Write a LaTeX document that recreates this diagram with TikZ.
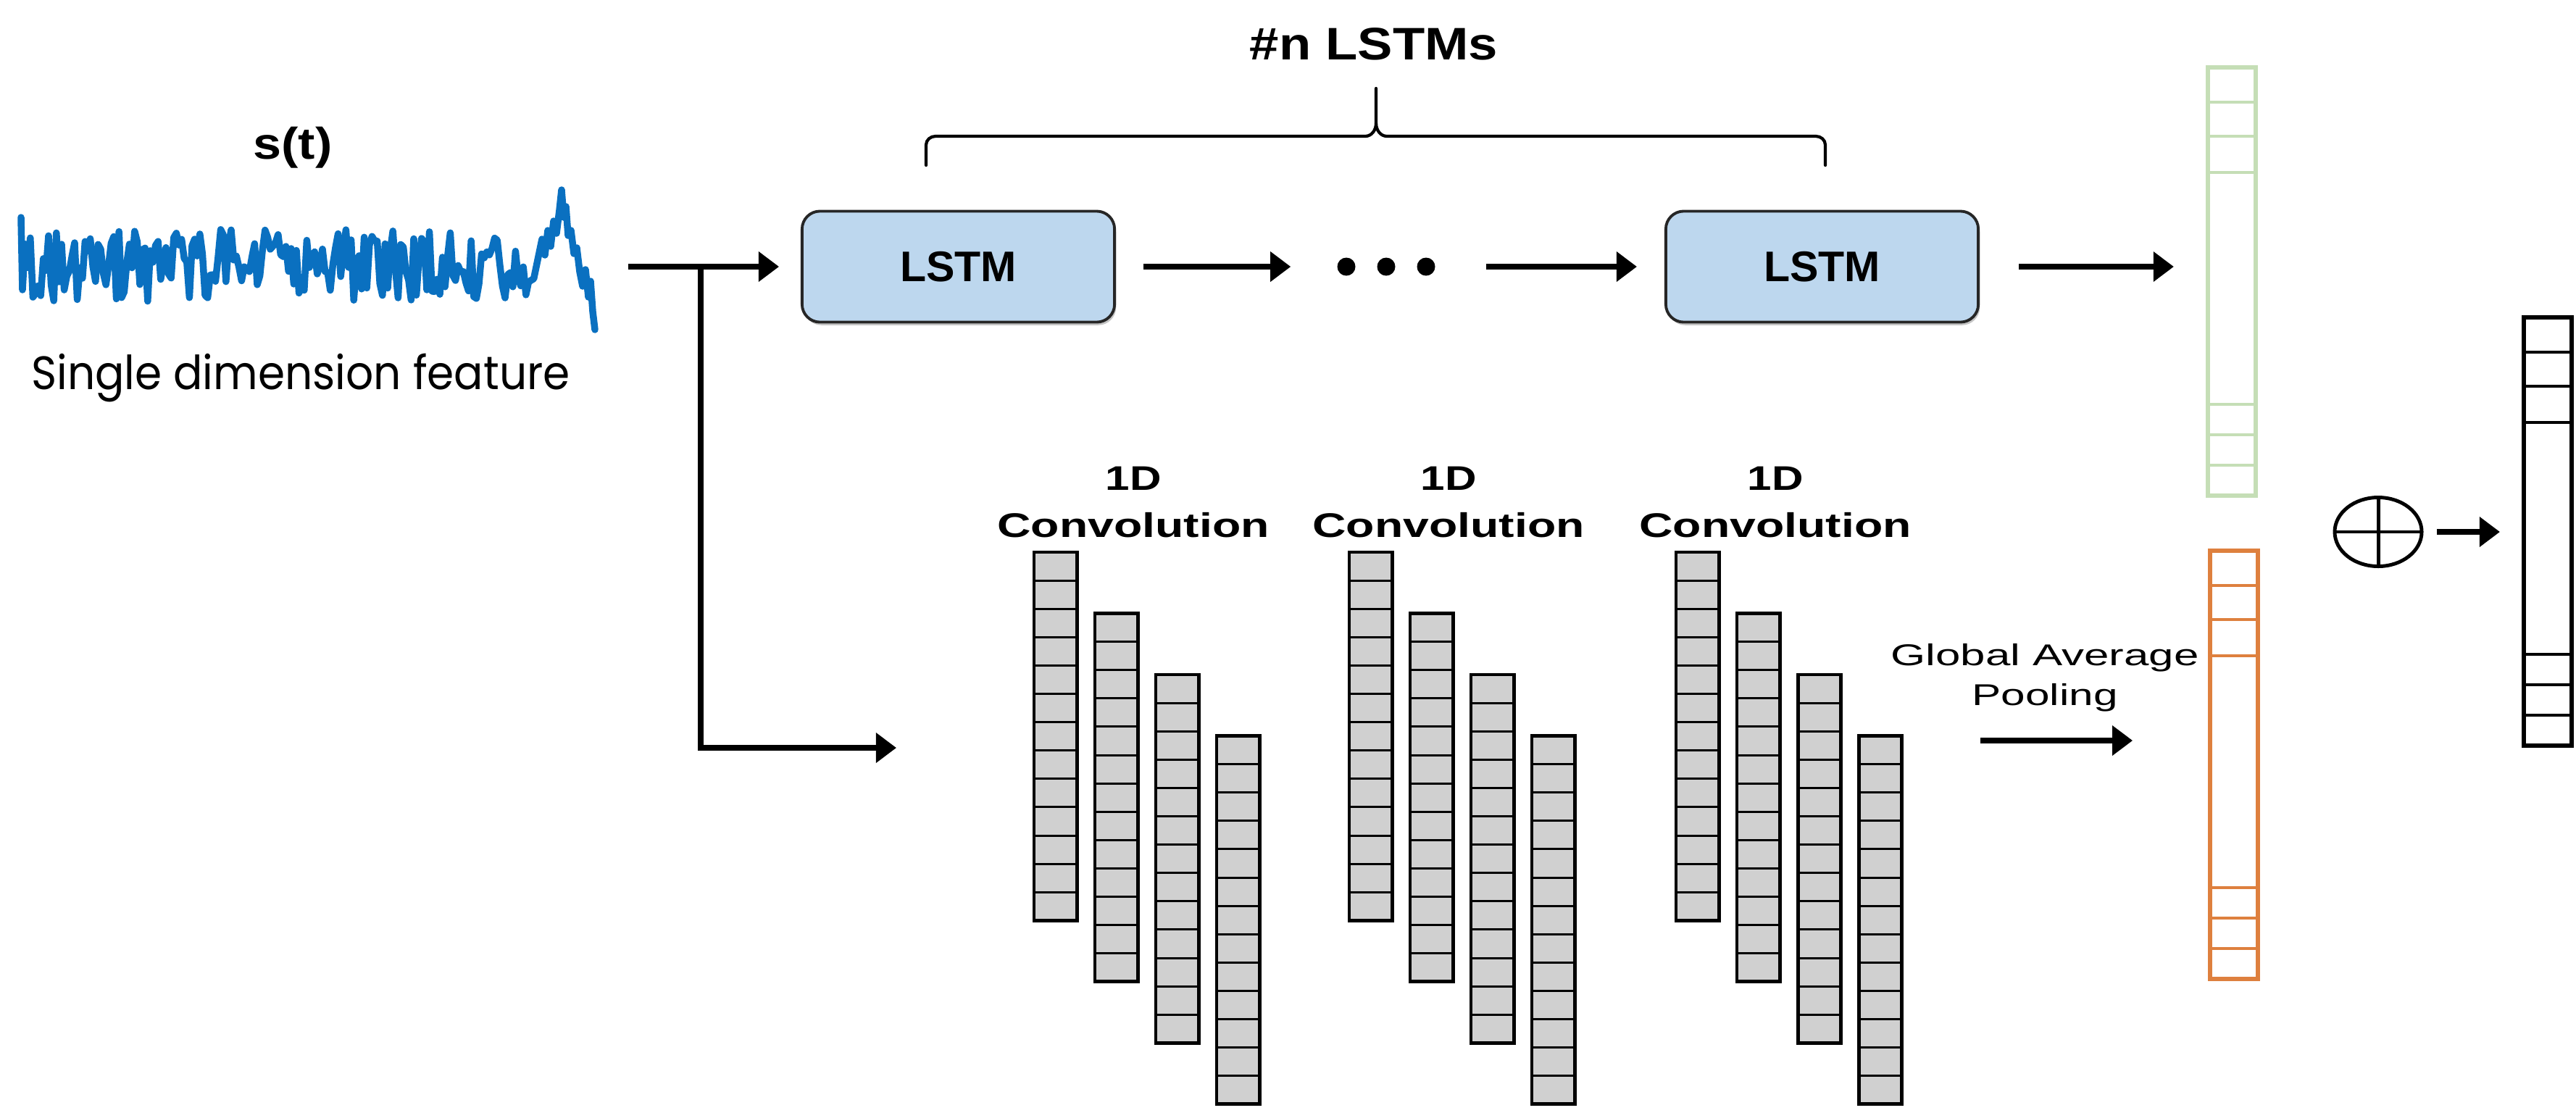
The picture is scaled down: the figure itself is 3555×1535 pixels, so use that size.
\documentclass[tikz,border=0pt]{standalone}
\usepackage{fontspec}
\setmainfont{Liberation Sans}
\newfontfamily\poppfont{Poppins}
\usepackage{graphicx}
\usetikzlibrary{arrows.meta,shadows,shapes.geometric}

\definecolor{sigblue}{RGB}{10,112,192}
\definecolor{lstmfill}{RGB}{189,215,238}
\definecolor{vgreen}{RGB}{197,222,182}
\definecolor{vorange}{RGB}{222,128,62}
\definecolor{convgray}{RGB}{208,208,208}

\tikzset{
  arr/.style={line width=2.2pt, -{Triangle[length=8pt,width=11.4pt]}},
  lstmbox/.style={draw=black!85, line width=1.1pt, fill=lstmfill, rounded corners=7pt,
    minimum width=4.31cm, minimum height=1.53cm, inner sep=0pt,
    font=\fontsize{16.8}{20}\selectfont\bfseries,
    drop shadow={shadow xshift=0.6pt,shadow yshift=-1.2pt,opacity=0.45}},
  convcol/.style={draw=black, line width=1.4pt, fill=convgray, minimum width=0.59cm,
    minimum height=5.08cm, inner sep=0pt, outer sep=0pt, anchor=north west,
    path picture={\foreach \j in {1,...,12}{\draw[black, line width=0.85pt]
      ([yshift=-\j*0.39077cm]path picture bounding box.north west) --
      ([yshift=-\j*0.39077cm]path picture bounding box.north east);}}},
  vec/.style={draw=#1, line width=1.7pt, minimum width=0.66cm, minimum height=5.91cm,
    inner sep=0pt, outer sep=0pt, anchor=north west,
    path picture={
      \foreach \d in {0.48,0.95,1.45}{\draw[line width=1.1pt,#1]
        ([yshift=-\d*1cm]path picture bounding box.north west) --
        ([yshift=-\d*1cm]path picture bounding box.north east);}
      \foreach \d in {0.42,0.84,1.26}{\draw[line width=1.1pt,#1]
        ([yshift=\d*1cm]path picture bounding box.south west) --
        ([yshift=\d*1cm]path picture bounding box.south east);}}},
  lbl/.style={inner sep=0pt, anchor=base},
}

\begin{document}
\begin{tikzpicture}[x=0.01cm,y=-0.01cm]
\useasboundingbox (0,0) rectangle (3555,1535);
\fill[white] (0,0) rectangle (3555,1535);

% input signal
\pgfmathsetseed{42}
\draw[sigblue, line width=2.7pt, line join=round, line cap=round]
  (29,300) -- (31,400) \foreach \i in {1,...,196}{ -- ({31+3.6*\i},{366+50*rand}) }
  -- (748,330) -- (752,352) -- (756,318) -- (760,340) -- (764,305) -- (768,322)
  -- (772,290) -- (775,262) -- (778,300) -- (781,285) -- (784,325) -- (788,318)
  -- (792,350) -- (796,342) -- (800,375) -- (804,395) -- (808,372) -- (812,410)
  -- (815,388) -- (818,430) -- (821,455);

\node[lbl, font=\fontsize{17.4}{20}\selectfont\bfseries] (st) at (404,219)
  {\resizebox{31pt}{\height}{s(t)}};
\node[lbl, font=\poppfont\fontsize{18.4}{22}\selectfont] (sdf) at (415,537)
  {\resizebox{211.4pt}{\height}{Single dimension feature}};

% LSTM chain
\node[lstmbox] (lstm1) at (1322.5,368) {LSTM};
\node[lstmbox] (lstm2) at (2514.5,368) {LSTM};
\node[inner sep=0pt, minimum width=1.34cm, minimum height=0.3cm] (dots) at (1913,368) {};
\foreach \dx in {-55,0,55}
  \fill ([xshift=\dx*0.01cm]dots.center) circle[radius=0.125cm];

\node[lbl, font=\fontsize{17.9}{21}\selectfont\bfseries] (nl) at (1896,82)
  {\resizebox{97.3pt}{\height}{\#n LSTMs}};
\draw[line width=1.2pt, line cap=round]
  (1278,228) -- (1278,200) to[out=90,in=180] (1291,188) -- (1884,188)
  to[out=0,in=-90] (1899,170) -- (1899,122);
\draw[line width=1.2pt, line cap=round]
  (1899,170) to[out=-90,in=180] (1914,188) -- (2506,188)
  to[out=0,in=90] (2519,200) -- (2519,228);

% vectors
\node[vec=vgreen] (vg) at (3047,93) {};
\node[vec=vorange] (vo) at (3050,760) {};
\node[vec=black] (vb) at (3483,438) {};

% convolution columns
\foreach \g/\gx in {1/1427, 2/1862, 3/2313} {
  \foreach \k in {0,...,3} {
    \node[convcol] (c\g\k) at ({\gx+84*\k},{762+84.5*\k}) {};
  }
  \node[lbl, font=\fontsize{13.4}{16}\selectfont\bfseries] (d\g) at ({\gx+137},676)
    {\resizebox{21.9pt}{\height}{1D}};
  \node[lbl, font=\fontsize{13.4}{16}\selectfont\bfseries] (cv\g) at ({\gx+137},741)
    {\resizebox{106.7pt}{\height}{Convolution}};
}

% global average pooling
\node[lbl, font=\fontsize{11.8}{14}\selectfont] (gapa) at (2822,918)
  {\resizebox{120.9pt}{\height}{Global Average}};
\node[lbl, font=\fontsize{11.8}{14}\selectfont] (gapb) at (2822,973)
  {\resizebox{57.2pt}{\height}{Pooling}};

% concatenation
\node[draw, ellipse, line width=1.4pt, minimum width=1.2cm, minimum height=0.95cm,
  inner sep=0pt, outer sep=0pt] (plus) at (3282,734) {};
\draw[line width=1.4pt] (plus.north) -- (plus.south) (plus.west) -- (plus.east);

% connectors
\coordinate (in) at (867,368);
\coordinate (br) at (967,368);
\coordinate (convin) at (1237,1032);
\coordinate (gapstart) at (2733,1022);
\draw[arr, shorten >=8.5pt] (in) -- (lstm1.west);
\draw[arr] (br) |- (convin);
\draw[arr, shorten <=10.8pt, shorten >=18.2pt] (lstm1.east) -- (dots.west);
\draw[arr, shorten <=19.9pt, shorten >=10.8pt] (dots.east) -- (lstm2.west);
\draw[arr, shorten <=15.4pt, shorten >=13.4pt] (lstm2.east) -- (lstm2.east -| vg.west);
\draw[arr, shorten >=30.4pt] (gapstart) -- (gapstart -| vo.west);
\draw[arr, shorten <=6pt, shorten >=9.4pt] (plus.east) -- (plus.east -| vb.west);
\end{tikzpicture}
\end{document}
